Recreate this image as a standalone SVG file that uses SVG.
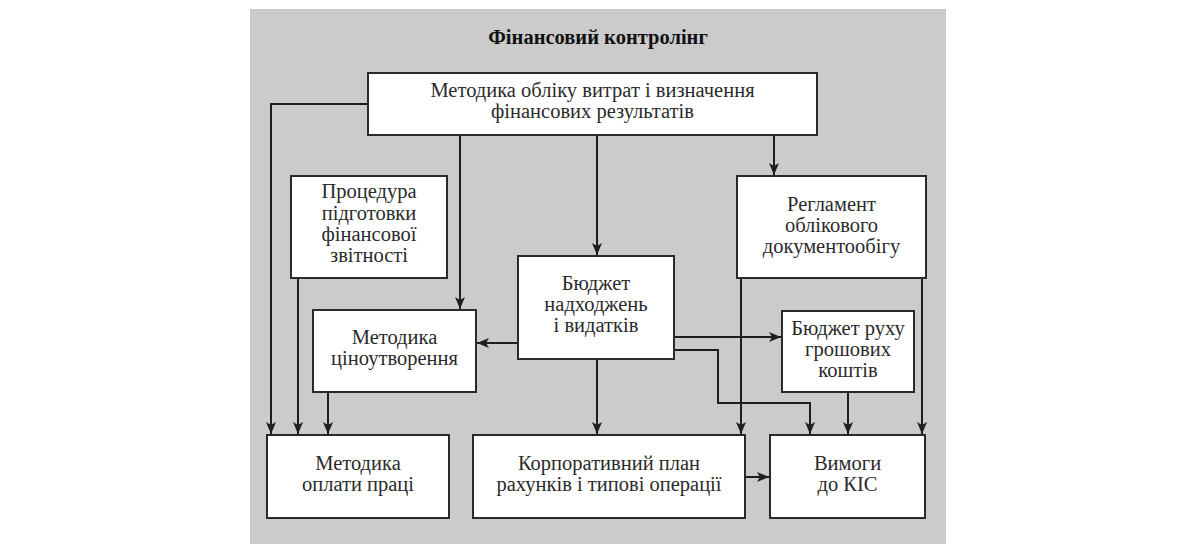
<svg xmlns="http://www.w3.org/2000/svg" width="1200" height="544" viewBox="0 0 1200 544">
<defs>
<style>
.bg{fill:#ffffff}
.panel{fill:#cbcbcb}
.box{fill:#ffffff;stroke:#2a2a2a;stroke-width:2}
.t{font-family:"Liberation Serif","Times New Roman",serif;font-size:20.5px;fill:#2a2a2a;text-anchor:middle}
.title{font-family:"Liberation Serif","Times New Roman",serif;font-size:20.5px;font-weight:bold;fill:#111;text-anchor:middle}
.c{fill:none;stroke:#1e1e1e;stroke-width:2}
</style>
<marker id="ah" viewBox="0 0 12 10" refX="12" refY="5" markerWidth="12" markerHeight="10" markerUnits="userSpaceOnUse" orient="auto">
<path d="M0,0 L12,5 L0,10 L3,5 z" fill="#1e1e1e"/>
</marker>
</defs>
<rect class="bg" x="0" y="0" width="1200" height="544"/>
<rect class="panel" x="250" y="9" width="696" height="535"/>
<text class="title" x="598" y="44">Фінансовий контролінг</text>

<g id="connectors">
<path class="c" d="M368,104 H271 V434" marker-end="url(#ah)"/>
<path class="c" d="M460,135 V309" marker-end="url(#ah)"/>
<path class="c" d="M597,135 V255" marker-end="url(#ah)"/>
<path class="c" d="M774,135 V175" marker-end="url(#ah)"/>
<path class="c" d="M298,278 V434" marker-end="url(#ah)"/>
<path class="c" d="M328,392 V434" marker-end="url(#ah)"/>
<path class="c" d="M518,343 H477" marker-end="url(#ah)"/>
<path class="c" d="M674,337 H781" marker-end="url(#ah)"/>
<path class="c" d="M674,350 H718 V403 H810 V434" marker-end="url(#ah)"/>
<path class="c" d="M597,359 V434" marker-end="url(#ah)"/>
<path class="c" d="M741,278 V434" marker-end="url(#ah)"/>
<path class="c" d="M922,278 V434" marker-end="url(#ah)"/>
<path class="c" d="M848,392 V434" marker-end="url(#ah)"/>
<path class="c" d="M745,477 H769" marker-end="url(#ah)"/>
</g>

<g id="n-metodyka-oblik">
<rect class="box" x="368" y="73" width="449" height="62"/>
<text class="t" x="592.5" y="97">Методика обліку витрат і визначення</text>
<text class="t" x="592.5" y="118">фінансових результатів</text>
</g>

<g id="n-protsedura">
<rect class="box" x="291" y="176" width="156" height="102"/>
<text class="t" x="369" y="198">Процедура</text>
<text class="t" x="369" y="220">підготовки</text>
<text class="t" x="369" y="241">фінансової</text>
<text class="t" x="369" y="262">звітності</text>
</g>

<g id="n-reglament">
<rect class="box" x="737" y="176" width="189" height="102"/>
<text class="t" x="831.5" y="211">Регламент</text>
<text class="t" x="831.5" y="232">облікового</text>
<text class="t" x="831.5" y="253">документообігу</text>
</g>

<g id="n-budget">
<rect class="box" x="518" y="256" width="156" height="103"/>
<text class="t" x="596" y="290">Бюджет</text>
<text class="t" x="596" y="311">надходжень</text>
<text class="t" x="596" y="332">і видатків</text>
</g>

<g id="n-tsinoutvorennia">
<rect class="box" x="313" y="310" width="163" height="82"/>
<text class="t" x="394.5" y="344">Методика</text>
<text class="t" x="394.5" y="365">ціноутворення</text>
</g>

<g id="n-budget-rukhu">
<rect class="box" x="782" y="311" width="132" height="81"/>
<text class="t" x="848" y="335">Бюджет руху</text>
<text class="t" x="848" y="356">грошових</text>
<text class="t" x="848" y="377">коштів</text>
</g>

<g id="n-oplata">
<rect class="box" x="267" y="435" width="182" height="83"/>
<text class="t" x="358" y="470">Методика</text>
<text class="t" x="358" y="491">оплати праці</text>
</g>

<g id="n-korporatyvnyi">
<rect class="box" x="473" y="435" width="272" height="83"/>
<text class="t" x="609" y="470">Корпоративний план</text>
<text class="t" x="609" y="491">рахунків і типові операції</text>
</g>

<g id="n-vymohy">
<rect class="box" x="770" y="435" width="155" height="83"/>
<text class="t" x="847.5" y="470">Вимоги</text>
<text class="t" x="847.5" y="491">до КІС</text>
</g>
</svg>
